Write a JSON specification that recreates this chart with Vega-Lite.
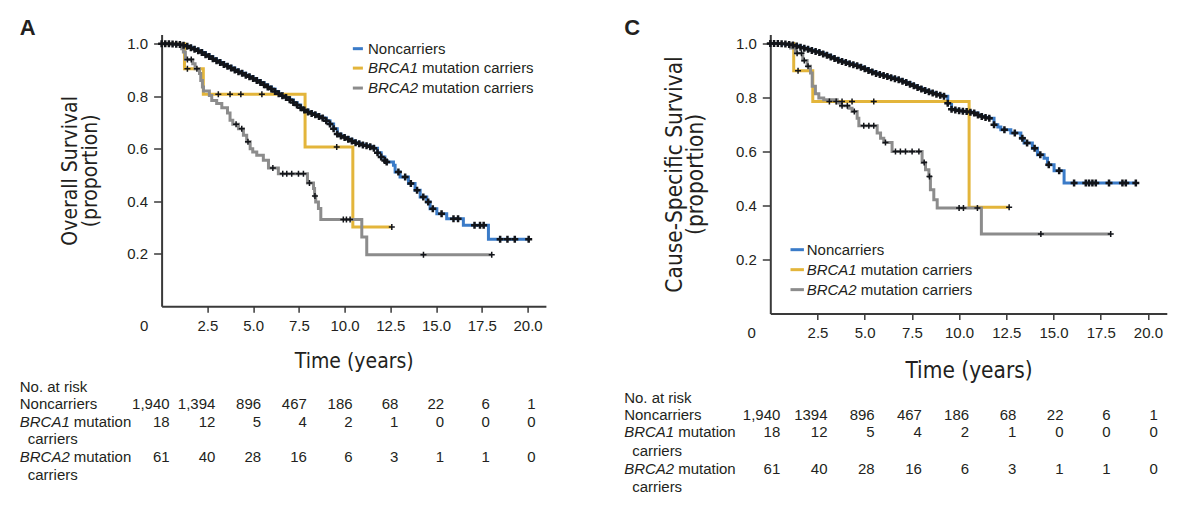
{
"$schema": "https://vega.github.io/schema/vega-lite/v6.json",
"background": "white",
"padding": {"left": 19.6, "top": 16.5, "right": 5, "bottom": 5},
"bounds": "flush",
"spacing": 223.7,
"config": {
  "view": {"stroke": null},
  "font": "Liberation Sans",
  "text": {"font": "Liberation Sans", "fontSize": 15, "color": "#231f20"},
  "axis": {"grid": false, "domainColor": "#3a3a3a", "domainWidth": 2, "tickColor": "#3a3a3a", "tickWidth": 1.5,
    "labelFont": "Liberation Sans", "labelFontSize": 15, "labelColor": "#231f20", "labelFlush": false, "labelOverlap": false,
    "titleFont": "Liberation Sans Narrow, DejaVu Sans Condensed, sans-serif", "titleFontWeight": "normal", "titleColor": "#231f20"},
  "axisX": {"tickSize": 6, "labelPadding": 6},
  "axisY": {"tickSize": 8, "labelPadding": 6}
},
"datasets": {
"km": [
{"p":"A","g":"Noncarriers","t":0,"s":1,"c":1},{"p":"A","g":"Noncarriers","t":0.2,"s":1,"c":1},{"p":"A","g":"Noncarriers","t":0.4,"s":1,"c":1},{"p":"A","g":"Noncarriers","t":0.6,"s":0.999,"c":1},{"p":"A","g":"Noncarriers","t":0.8,"s":0.998,"c":1},{"p":"A","g":"Noncarriers","t":1,"s":0.997,"c":1},{"p":"A","g":"Noncarriers","t":1.2,"s":0.994,"c":1},{"p":"A","g":"Noncarriers","t":1.4,"s":0.99,"c":1},{"p":"A","g":"Noncarriers","t":1.6,"s":0.985,"c":1},{"p":"A","g":"Noncarriers","t":1.8,"s":0.979,"c":1},{"p":"A","g":"Noncarriers","t":2,"s":0.973,"c":1},{"p":"A","g":"Noncarriers","t":2.2,"s":0.966,"c":1},{"p":"A","g":"Noncarriers","t":2.4,"s":0.958,"c":1},{"p":"A","g":"Noncarriers","t":2.6,"s":0.951,"c":1},{"p":"A","g":"Noncarriers","t":2.8,"s":0.943,"c":1},{"p":"A","g":"Noncarriers","t":3,"s":0.935,"c":1},{"p":"A","g":"Noncarriers","t":3.2,"s":0.928,"c":1},{"p":"A","g":"Noncarriers","t":3.4,"s":0.921,"c":1},{"p":"A","g":"Noncarriers","t":3.6,"s":0.914,"c":1},{"p":"A","g":"Noncarriers","t":3.8,"s":0.907,"c":1},{"p":"A","g":"Noncarriers","t":4,"s":0.9,"c":1},{"p":"A","g":"Noncarriers","t":4.2,"s":0.893,"c":1},{"p":"A","g":"Noncarriers","t":4.4,"s":0.887,"c":1},{"p":"A","g":"Noncarriers","t":4.6,"s":0.88,"c":1},{"p":"A","g":"Noncarriers","t":4.8,"s":0.874,"c":1},{"p":"A","g":"Noncarriers","t":5,"s":0.867,"c":1},{"p":"A","g":"Noncarriers","t":5.2,"s":0.86,"c":1},{"p":"A","g":"Noncarriers","t":5.4,"s":0.852,"c":1},{"p":"A","g":"Noncarriers","t":5.6,"s":0.844,"c":1},{"p":"A","g":"Noncarriers","t":5.8,"s":0.835,"c":1},{"p":"A","g":"Noncarriers","t":6,"s":0.827,"c":1},{"p":"A","g":"Noncarriers","t":6.2,"s":0.818,"c":1},{"p":"A","g":"Noncarriers","t":6.4,"s":0.809,"c":1},{"p":"A","g":"Noncarriers","t":6.6,"s":0.802,"c":1},{"p":"A","g":"Noncarriers","t":6.8,"s":0.795,"c":1},{"p":"A","g":"Noncarriers","t":7,"s":0.786,"c":1},{"p":"A","g":"Noncarriers","t":7.2,"s":0.776,"c":1},{"p":"A","g":"Noncarriers","t":7.4,"s":0.766,"c":1},{"p":"A","g":"Noncarriers","t":7.6,"s":0.756,"c":1},{"p":"A","g":"Noncarriers","t":7.8,"s":0.747,"c":1},{"p":"A","g":"Noncarriers","t":8,"s":0.74,"c":1},{"p":"A","g":"Noncarriers","t":8.2,"s":0.734,"c":1},{"p":"A","g":"Noncarriers","t":8.4,"s":0.729,"c":1},{"p":"A","g":"Noncarriers","t":8.6,"s":0.723,"c":1},{"p":"A","g":"Noncarriers","t":8.8,"s":0.717,"c":1},{"p":"A","g":"Noncarriers","t":9,"s":0.706,"c":1},{"p":"A","g":"Noncarriers","t":9.2,"s":0.694,"c":1},{"p":"A","g":"Noncarriers","t":9.4,"s":0.676,"c":1},{"p":"A","g":"Noncarriers","t":9.6,"s":0.656,"c":1},{"p":"A","g":"Noncarriers","t":9.8,"s":0.648,"c":1},{"p":"A","g":"Noncarriers","t":10,"s":0.643,"c":1},{"p":"A","g":"Noncarriers","t":10.2,"s":0.636,"c":1},{"p":"A","g":"Noncarriers","t":10.4,"s":0.629,"c":1},{"p":"A","g":"Noncarriers","t":10.6,"s":0.623,"c":1},{"p":"A","g":"Noncarriers","t":10.8,"s":0.619,"c":1},{"p":"A","g":"Noncarriers","t":11,"s":0.614,"c":1},{"p":"A","g":"Noncarriers","t":11.2,"s":0.611,"c":1},{"p":"A","g":"Noncarriers","t":11.4,"s":0.607,"c":1},{"p":"A","g":"Noncarriers","t":11.6,"s":0.602,"c":1},{"p":"A","g":"Noncarriers","t":11.8,"s":0.585,"c":1},{"p":"A","g":"Noncarriers","t":12,"s":0.568,"c":1},{"p":"A","g":"Noncarriers","t":12.2,"s":0.555,"c":1},
{"p":"A","g":"Noncarriers","t":12.3,"s":0.549,"c":1},{"p":"A","g":"Noncarriers","t":12.67,"s":0.537},{"p":"A","g":"Noncarriers","t":12.76,"s":0.511},{"p":"A","g":"Noncarriers","t":12.94,"s":0.511,"c":1},{"p":"A","g":"Noncarriers","t":13.03,"s":0.492},{"p":"A","g":"Noncarriers","t":13.31,"s":0.492,"c":1},{"p":"A","g":"Noncarriers","t":13.49,"s":0.467},{"p":"A","g":"Noncarriers","t":13.62,"s":0.467,"c":1},{"p":"A","g":"Noncarriers","t":13.85,"s":0.442},{"p":"A","g":"Noncarriers","t":13.96,"s":0.442,"c":1},{"p":"A","g":"Noncarriers","t":14.13,"s":0.416},{"p":"A","g":"Noncarriers","t":14.3,"s":0.416,"c":1},{"p":"A","g":"Noncarriers","t":14.49,"s":0.397},{"p":"A","g":"Noncarriers","t":14.57,"s":0.397,"c":1},{"p":"A","g":"Noncarriers","t":14.67,"s":0.371},{"p":"A","g":"Noncarriers","t":14.82,"s":0.371,"c":1},{"p":"A","g":"Noncarriers","t":15.04,"s":0.352},{"p":"A","g":"Noncarriers","t":15.3,"s":0.352,"c":1},{"p":"A","g":"Noncarriers","t":15.58,"s":0.333},{"p":"A","g":"Noncarriers","t":15.95,"s":0.333,"c":1},{"p":"A","g":"Noncarriers","t":16.2,"s":0.333,"c":1},{"p":"A","g":"Noncarriers","t":16.49,"s":0.308},{"p":"A","g":"Noncarriers","t":17.1,"s":0.308,"c":1},{"p":"A","g":"Noncarriers","t":17.4,"s":0.308,"c":1},{"p":"A","g":"Noncarriers","t":17.6,"s":0.308,"c":1},{"p":"A","g":"Noncarriers","t":17.86,"s":0.255},{"p":"A","g":"Noncarriers","t":18.5,"s":0.255,"c":1},{"p":"A","g":"Noncarriers","t":18.9,"s":0.255,"c":1},{"p":"A","g":"Noncarriers","t":19.3,"s":0.255,"c":1},{"p":"A","g":"Noncarriers","t":20.06,"s":0.255,"c":1},
{"p":"A","g":"BRCA1","t":0,"s":1},{"p":"A","g":"BRCA1","t":1.25,"s":0.905},{"p":"A","g":"BRCA1","t":1.41,"s":0.905,"c":1},{"p":"A","g":"BRCA1","t":2.28,"s":0.807},{"p":"A","g":"BRCA1","t":3.1,"s":0.807,"c":1},{"p":"A","g":"BRCA1","t":3.74,"s":0.807,"c":1},{"p":"A","g":"BRCA1","t":4.33,"s":0.807,"c":1},{"p":"A","g":"BRCA1","t":5.48,"s":0.807,"c":1},{"p":"A","g":"BRCA1","t":7.84,"s":0.606},{"p":"A","g":"BRCA1","t":9.57,"s":0.606,"c":1},{"p":"A","g":"BRCA1","t":10.45,"s":0.302},{"p":"A","g":"BRCA1","t":12.58,"s":0.302,"c":1},
{"p":"A","g":"BRCA2","t":0,"s":1},{"p":"A","g":"BRCA2","t":1.1,"s":0.981},{"p":"A","g":"BRCA2","t":1.19,"s":0.968},{"p":"A","g":"BRCA2","t":1.3,"s":0.94},{"p":"A","g":"BRCA2","t":1.41,"s":0.94,"c":1},{"p":"A","g":"BRCA2","t":1.62,"s":0.94,"c":1},{"p":"A","g":"BRCA2","t":1.7,"s":0.924},{"p":"A","g":"BRCA2","t":1.83,"s":0.905},{"p":"A","g":"BRCA2","t":1.93,"s":0.905,"c":1},{"p":"A","g":"BRCA2","t":2.07,"s":0.886},{"p":"A","g":"BRCA2","t":2.14,"s":0.86},{"p":"A","g":"BRCA2","t":2.23,"s":0.835},{"p":"A","g":"BRCA2","t":2.29,"s":0.82},{"p":"A","g":"BRCA2","t":2.61,"s":0.803},{"p":"A","g":"BRCA2","t":2.74,"s":0.784},{"p":"A","g":"BRCA2","t":3.01,"s":0.772},{"p":"A","g":"BRCA2","t":3.29,"s":0.756},{"p":"A","g":"BRCA2","t":3.6,"s":0.736},{"p":"A","g":"BRCA2","t":3.74,"s":0.708},{"p":"A","g":"BRCA2","t":3.89,"s":0.693},{"p":"A","g":"BRCA2","t":4.07,"s":0.693,"c":1},{"p":"A","g":"BRCA2","t":4.2,"s":0.676},{"p":"A","g":"BRCA2","t":4.38,"s":0.676,"c":1},{"p":"A","g":"BRCA2","t":4.47,"s":0.651},{"p":"A","g":"BRCA2","t":4.65,"s":0.626},{"p":"A","g":"BRCA2","t":4.72,"s":0.626,"c":1},{"p":"A","g":"BRCA2","t":4.84,"s":0.6},{"p":"A","g":"BRCA2","t":4.98,"s":0.587},{"p":"A","g":"BRCA2","t":5.2,"s":0.575},{"p":"A","g":"BRCA2","t":5.56,"s":0.556},{"p":"A","g":"BRCA2","t":5.84,"s":0.526},{"p":"A","g":"BRCA2","t":6.08,"s":0.526,"c":1},{"p":"A","g":"BRCA2","t":6.38,"s":0.505},{"p":"A","g":"BRCA2","t":6.62,"s":0.505,"c":1},{"p":"A","g":"BRCA2","t":6.84,"s":0.505,"c":1},{"p":"A","g":"BRCA2","t":7.11,"s":0.505,"c":1},{"p":"A","g":"BRCA2","t":7.48,"s":0.505,"c":1},{"p":"A","g":"BRCA2","t":7.75,"s":0.505,"c":1},{"p":"A","g":"BRCA2","t":7.97,"s":0.469},{"p":"A","g":"BRCA2","t":8.08,"s":0.469,"c":1},{"p":"A","g":"BRCA2","t":8.3,"s":0.448},{"p":"A","g":"BRCA2","t":8.36,"s":0.42},{"p":"A","g":"BRCA2","t":8.38,"s":0.42,"c":1},{"p":"A","g":"BRCA2","t":8.42,"s":0.397},{"p":"A","g":"BRCA2","t":8.57,"s":0.372},{"p":"A","g":"BRCA2","t":8.7,"s":0.33},{"p":"A","g":"BRCA2","t":9.93,"s":0.33,"c":1},{"p":"A","g":"BRCA2","t":10.1,"s":0.33,"c":1},{"p":"A","g":"BRCA2","t":10.3,"s":0.33,"c":1},{"p":"A","g":"BRCA2","t":10.94,"s":0.264},{"p":"A","g":"BRCA2","t":11.21,"s":0.196},{"p":"A","g":"BRCA2","t":14.31,"s":0.196,"c":1},{"p":"A","g":"BRCA2","t":18.04,"s":0.196,"c":1},
{"p":"C","g":"Noncarriers","t":0,"s":1,"c":1},{"p":"C","g":"Noncarriers","t":0.2,"s":1,"c":1},{"p":"C","g":"Noncarriers","t":0.4,"s":1,"c":1},{"p":"C","g":"Noncarriers","t":0.6,"s":0.999,"c":1},{"p":"C","g":"Noncarriers","t":0.8,"s":0.998,"c":1},{"p":"C","g":"Noncarriers","t":1,"s":0.996,"c":1},{"p":"C","g":"Noncarriers","t":1.2,"s":0.994,"c":1},{"p":"C","g":"Noncarriers","t":1.4,"s":0.99,"c":1},{"p":"C","g":"Noncarriers","t":1.6,"s":0.986,"c":1},{"p":"C","g":"Noncarriers","t":1.8,"s":0.982,"c":1},{"p":"C","g":"Noncarriers","t":2,"s":0.978,"c":1},{"p":"C","g":"Noncarriers","t":2.2,"s":0.974,"c":1},{"p":"C","g":"Noncarriers","t":2.4,"s":0.97,"c":1},{"p":"C","g":"Noncarriers","t":2.6,"s":0.966,"c":1},{"p":"C","g":"Noncarriers","t":2.8,"s":0.961,"c":1},{"p":"C","g":"Noncarriers","t":3,"s":0.956,"c":1},{"p":"C","g":"Noncarriers","t":3.2,"s":0.95,"c":1},{"p":"C","g":"Noncarriers","t":3.4,"s":0.944,"c":1},{"p":"C","g":"Noncarriers","t":3.6,"s":0.938,"c":1},{"p":"C","g":"Noncarriers","t":3.8,"s":0.933,"c":1},{"p":"C","g":"Noncarriers","t":4,"s":0.929,"c":1},{"p":"C","g":"Noncarriers","t":4.2,"s":0.925,"c":1},{"p":"C","g":"Noncarriers","t":4.4,"s":0.921,"c":1},{"p":"C","g":"Noncarriers","t":4.6,"s":0.917,"c":1},{"p":"C","g":"Noncarriers","t":4.8,"s":0.912,"c":1},{"p":"C","g":"Noncarriers","t":5,"s":0.906,"c":1},{"p":"C","g":"Noncarriers","t":5.2,"s":0.9,"c":1},{"p":"C","g":"Noncarriers","t":5.4,"s":0.894,"c":1},{"p":"C","g":"Noncarriers","t":5.6,"s":0.889,"c":1},{"p":"C","g":"Noncarriers","t":5.8,"s":0.885,"c":1},{"p":"C","g":"Noncarriers","t":6,"s":0.881,"c":1},{"p":"C","g":"Noncarriers","t":6.2,"s":0.877,"c":1},{"p":"C","g":"Noncarriers","t":6.4,"s":0.873,"c":1},{"p":"C","g":"Noncarriers","t":6.6,"s":0.869,"c":1},{"p":"C","g":"Noncarriers","t":6.8,"s":0.865,"c":1},{"p":"C","g":"Noncarriers","t":7,"s":0.86,"c":1},{"p":"C","g":"Noncarriers","t":7.2,"s":0.855,"c":1},{"p":"C","g":"Noncarriers","t":7.4,"s":0.849,"c":1},{"p":"C","g":"Noncarriers","t":7.6,"s":0.843,"c":1},{"p":"C","g":"Noncarriers","t":7.8,"s":0.837,"c":1},{"p":"C","g":"Noncarriers","t":8,"s":0.831,"c":1},{"p":"C","g":"Noncarriers","t":8.2,"s":0.826,"c":1},{"p":"C","g":"Noncarriers","t":8.4,"s":0.821,"c":1},{"p":"C","g":"Noncarriers","t":8.6,"s":0.816,"c":1},{"p":"C","g":"Noncarriers","t":8.8,"s":0.812,"c":1},{"p":"C","g":"Noncarriers","t":9,"s":0.808,"c":1},{"p":"C","g":"Noncarriers","t":9.2,"s":0.804,"c":1},{"p":"C","g":"Noncarriers","t":9.4,"s":0.778,"c":1},{"p":"C","g":"Noncarriers","t":9.6,"s":0.756,"c":1},{"p":"C","g":"Noncarriers","t":9.8,"s":0.753,"c":1},{"p":"C","g":"Noncarriers","t":10,"s":0.751,"c":1},{"p":"C","g":"Noncarriers","t":10.2,"s":0.749,"c":1},{"p":"C","g":"Noncarriers","t":10.4,"s":0.748,"c":1},{"p":"C","g":"Noncarriers","t":10.6,"s":0.745,"c":1},{"p":"C","g":"Noncarriers","t":10.8,"s":0.742,"c":1},{"p":"C","g":"Noncarriers","t":11,"s":0.735,"c":1},{"p":"C","g":"Noncarriers","t":11.2,"s":0.729,"c":1},{"p":"C","g":"Noncarriers","t":11.4,"s":0.726,"c":1},{"p":"C","g":"Noncarriers","t":11.6,"s":0.723,"c":1},
{"p":"C","g":"Noncarriers","t":11.85,"s":0.699,"c":1},{"p":"C","g":"Noncarriers","t":12.05,"s":0.69},{"p":"C","g":"Noncarriers","t":12.21,"s":0.68},{"p":"C","g":"Noncarriers","t":12.4,"s":0.68,"c":1},{"p":"C","g":"Noncarriers","t":12.74,"s":0.668},{"p":"C","g":"Noncarriers","t":12.95,"s":0.668,"c":1},{"p":"C","g":"Noncarriers","t":13.27,"s":0.649},{"p":"C","g":"Noncarriers","t":13.35,"s":0.649,"c":1},{"p":"C","g":"Noncarriers","t":13.44,"s":0.631},{"p":"C","g":"Noncarriers","t":13.6,"s":0.631,"c":1},{"p":"C","g":"Noncarriers","t":13.88,"s":0.612},{"p":"C","g":"Noncarriers","t":14,"s":0.612,"c":1},{"p":"C","g":"Noncarriers","t":14.15,"s":0.588},{"p":"C","g":"Noncarriers","t":14.3,"s":0.588,"c":1},{"p":"C","g":"Noncarriers","t":14.5,"s":0.575},{"p":"C","g":"Noncarriers","t":14.68,"s":0.551},{"p":"C","g":"Noncarriers","t":14.75,"s":0.551,"c":1},{"p":"C","g":"Noncarriers","t":15.03,"s":0.528},{"p":"C","g":"Noncarriers","t":15.3,"s":0.528,"c":1},{"p":"C","g":"Noncarriers","t":15.56,"s":0.483},{"p":"C","g":"Noncarriers","t":16.09,"s":0.483,"c":1},{"p":"C","g":"Noncarriers","t":16.71,"s":0.483,"c":1},{"p":"C","g":"Noncarriers","t":16.88,"s":0.483,"c":1},{"p":"C","g":"Noncarriers","t":17.06,"s":0.483,"c":1},{"p":"C","g":"Noncarriers","t":17.24,"s":0.483,"c":1},{"p":"C","g":"Noncarriers","t":17.94,"s":0.483,"c":1},{"p":"C","g":"Noncarriers","t":18.65,"s":0.483,"c":1},{"p":"C","g":"Noncarriers","t":18.83,"s":0.483,"c":1},{"p":"C","g":"Noncarriers","t":19.36,"s":0.483,"c":1},
{"p":"C","g":"BRCA1","t":0,"s":1},{"p":"C","g":"BRCA1","t":1.24,"s":0.899},{"p":"C","g":"BRCA1","t":1.47,"s":0.899,"c":1},{"p":"C","g":"BRCA1","t":2.25,"s":0.785},{"p":"C","g":"BRCA1","t":3.13,"s":0.785,"c":1},{"p":"C","g":"BRCA1","t":3.49,"s":0.785,"c":1},{"p":"C","g":"BRCA1","t":3.8,"s":0.785,"c":1},{"p":"C","g":"BRCA1","t":4.33,"s":0.785,"c":1},{"p":"C","g":"BRCA1","t":5.48,"s":0.785,"c":1},{"p":"C","g":"BRCA1","t":10.53,"s":0.393},{"p":"C","g":"BRCA1","t":12.65,"s":0.393,"c":1},
{"p":"C","g":"BRCA2","t":0,"s":1},{"p":"C","g":"BRCA2","t":1.07,"s":0.983},{"p":"C","g":"BRCA2","t":1.33,"s":0.964},{"p":"C","g":"BRCA2","t":1.42,"s":0.964,"c":1},{"p":"C","g":"BRCA2","t":1.65,"s":0.964,"c":1},{"p":"C","g":"BRCA2","t":1.72,"s":0.937},{"p":"C","g":"BRCA2","t":1.8,"s":0.937,"c":1},{"p":"C","g":"BRCA2","t":1.95,"s":0.915},{"p":"C","g":"BRCA2","t":2,"s":0.915,"c":1},{"p":"C","g":"BRCA2","t":2.13,"s":0.89},{"p":"C","g":"BRCA2","t":2.22,"s":0.841},{"p":"C","g":"BRCA2","t":2.39,"s":0.814},{"p":"C","g":"BRCA2","t":2.57,"s":0.798},{"p":"C","g":"BRCA2","t":2.83,"s":0.791},{"p":"C","g":"BRCA2","t":3.54,"s":0.779},{"p":"C","g":"BRCA2","t":3.72,"s":0.769},{"p":"C","g":"BRCA2","t":3.8,"s":0.769,"c":1},{"p":"C","g":"BRCA2","t":4.08,"s":0.769,"c":1},{"p":"C","g":"BRCA2","t":4.16,"s":0.76},{"p":"C","g":"BRCA2","t":4.33,"s":0.748},{"p":"C","g":"BRCA2","t":4.45,"s":0.748,"c":1},{"p":"C","g":"BRCA2","t":4.6,"s":0.723},{"p":"C","g":"BRCA2","t":4.69,"s":0.695},{"p":"C","g":"BRCA2","t":4.95,"s":0.695,"c":1},{"p":"C","g":"BRCA2","t":5.22,"s":0.695,"c":1},{"p":"C","g":"BRCA2","t":5.48,"s":0.695,"c":1},{"p":"C","g":"BRCA2","t":5.66,"s":0.668},{"p":"C","g":"BRCA2","t":5.84,"s":0.649},{"p":"C","g":"BRCA2","t":6.01,"s":0.633},{"p":"C","g":"BRCA2","t":6.1,"s":0.633,"c":1},{"p":"C","g":"BRCA2","t":6.45,"s":0.6},{"p":"C","g":"BRCA2","t":6.63,"s":0.6,"c":1},{"p":"C","g":"BRCA2","t":6.89,"s":0.6,"c":1},{"p":"C","g":"BRCA2","t":7.16,"s":0.6,"c":1},{"p":"C","g":"BRCA2","t":7.51,"s":0.6,"c":1},{"p":"C","g":"BRCA2","t":7.87,"s":0.6,"c":1},{"p":"C","g":"BRCA2","t":8.04,"s":0.559},{"p":"C","g":"BRCA2","t":8.15,"s":0.559,"c":1},{"p":"C","g":"BRCA2","t":8.22,"s":0.532},{"p":"C","g":"BRCA2","t":8.4,"s":0.507},{"p":"C","g":"BRCA2","t":8.43,"s":0.507,"c":1},{"p":"C","g":"BRCA2","t":8.48,"s":0.458},{"p":"C","g":"BRCA2","t":8.66,"s":0.421},{"p":"C","g":"BRCA2","t":8.84,"s":0.39},{"p":"C","g":"BRCA2","t":10,"s":0.39,"c":1},{"p":"C","g":"BRCA2","t":10.23,"s":0.39,"c":1},{"p":"C","g":"BRCA2","t":10.97,"s":0.39,"c":1},{"p":"C","g":"BRCA2","t":11.18,"s":0.294},{"p":"C","g":"BRCA2","t":14.33,"s":0.294,"c":1},{"p":"C","g":"BRCA2","t":18.03,"s":0.294,"c":1}
],
"risk": [
{"p":"A","g":"Noncarriers","t":0,"n":"1,940"},{"p":"A","g":"Noncarriers","t":2.5,"n":"1,394"},{"p":"A","g":"Noncarriers","t":5,"n":"896"},{"p":"A","g":"Noncarriers","t":7.5,"n":"467"},{"p":"A","g":"Noncarriers","t":10,"n":"186"},{"p":"A","g":"Noncarriers","t":12.5,"n":"68"},{"p":"A","g":"Noncarriers","t":15,"n":"22"},{"p":"A","g":"Noncarriers","t":17.5,"n":"6"},{"p":"A","g":"Noncarriers","t":20,"n":"1"},
{"p":"A","g":"BRCA1","t":0,"n":"18"},{"p":"A","g":"BRCA1","t":2.5,"n":"12"},{"p":"A","g":"BRCA1","t":5,"n":"5"},{"p":"A","g":"BRCA1","t":7.5,"n":"4"},{"p":"A","g":"BRCA1","t":10,"n":"2"},{"p":"A","g":"BRCA1","t":12.5,"n":"1"},{"p":"A","g":"BRCA1","t":15,"n":"0"},{"p":"A","g":"BRCA1","t":17.5,"n":"0"},{"p":"A","g":"BRCA1","t":20,"n":"0"},
{"p":"A","g":"BRCA2","t":0,"n":"61"},{"p":"A","g":"BRCA2","t":2.5,"n":"40"},{"p":"A","g":"BRCA2","t":5,"n":"28"},{"p":"A","g":"BRCA2","t":7.5,"n":"16"},{"p":"A","g":"BRCA2","t":10,"n":"6"},{"p":"A","g":"BRCA2","t":12.5,"n":"3"},{"p":"A","g":"BRCA2","t":15,"n":"1"},{"p":"A","g":"BRCA2","t":17.5,"n":"1"},{"p":"A","g":"BRCA2","t":20,"n":"0"},
{"p":"C","g":"Noncarriers","t":0,"n":"1,940"},{"p":"C","g":"Noncarriers","t":2.5,"n":"1394"},{"p":"C","g":"Noncarriers","t":5,"n":"896"},{"p":"C","g":"Noncarriers","t":7.5,"n":"467"},{"p":"C","g":"Noncarriers","t":10,"n":"186"},{"p":"C","g":"Noncarriers","t":12.5,"n":"68"},{"p":"C","g":"Noncarriers","t":15,"n":"22"},{"p":"C","g":"Noncarriers","t":17.5,"n":"6"},{"p":"C","g":"Noncarriers","t":20,"n":"1"},
{"p":"C","g":"BRCA1","t":0,"n":"18"},{"p":"C","g":"BRCA1","t":2.5,"n":"12"},{"p":"C","g":"BRCA1","t":5,"n":"5"},{"p":"C","g":"BRCA1","t":7.5,"n":"4"},{"p":"C","g":"BRCA1","t":10,"n":"2"},{"p":"C","g":"BRCA1","t":12.5,"n":"1"},{"p":"C","g":"BRCA1","t":15,"n":"0"},{"p":"C","g":"BRCA1","t":17.5,"n":"0"},{"p":"C","g":"BRCA1","t":20,"n":"0"},
{"p":"C","g":"BRCA2","t":0,"n":"61"},{"p":"C","g":"BRCA2","t":2.5,"n":"40"},{"p":"C","g":"BRCA2","t":5,"n":"28"},{"p":"C","g":"BRCA2","t":7.5,"n":"16"},{"p":"C","g":"BRCA2","t":10,"n":"6"},{"p":"C","g":"BRCA2","t":12.5,"n":"3"},{"p":"C","g":"BRCA2","t":15,"n":"1"},{"p":"C","g":"BRCA2","t":17.5,"n":"1"},{"p":"C","g":"BRCA2","t":20,"n":"0"}
]
},
"hconcat": [
{
 "width": 384.3, "height": 271.7,
 "layer": [
  {"data": {"name": "km"}, "transform": [{"filter": "datum.p === 'A'"}],
   "mark": {"type": "line", "interpolate": "step-after", "strokeWidth": 3, "strokeCap": "butt"},
   "encoding": {
    "x": {"field": "t", "type": "quantitative", "scale": {"domain": [0, 21], "nice": false, "zero": false},
      "axis": {"values": [0, 2.5, 5, 7.5, 10, 12.5, 15, 17.5, 20], "labelExpr": "datum.value === 0 ? '0' : format(datum.value, '.1f')",
        "labelOffset": {"condition": {"test": "datum.value === 0", "value": -18}, "value": 0},
        "tickOpacity": {"condition": {"test": "datum.value === 0", "value": 0}, "value": 1},
        "title": "Time (years)", "titleFontSize": 21, "titlePadding": 17}},
    "y": {"field": "s", "type": "quantitative", "scale": {"domain": [0, 1.035], "nice": false, "zero": false},
      "axis": {"values": [0.2, 0.4, 0.6, 0.8, 1.0], "format": ".1f", "title": ["Overall Survival", "(proportion)"], "titleFontSize": 21, "titleLineHeight": 20, "titlePadding": 26}},
    "color": {"field": "g", "type": "nominal", "scale": {"domain": ["Noncarriers", "BRCA1", "BRCA2"], "range": ["#3a7bc8", "#e3b53b", "#8c8c8c"]}, "legend": null}
   }},
  {"data": {"name": "km"}, "transform": [{"filter": "datum.p === 'A' && datum.c === 1 && datum.g === 'Noncarriers'"}],
   "mark": {"type": "point", "shape": "M-1,0L1,0M0,-1L0,1", "filled": false, "stroke": "#121419", "strokeWidth": 2.5, "size": 49, "opacity": 1},
   "encoding": {"x": {"field": "t", "type": "quantitative"}, "y": {"field": "s", "type": "quantitative"}}},
  {"data": {"name": "km"}, "transform": [{"filter": "datum.p === 'A' && datum.c === 1 && datum.g !== 'Noncarriers'"}],
   "mark": {"type": "point", "shape": "M-1,0L1,0M0,-1L0,1", "filled": false, "stroke": "#121419", "strokeWidth": 1.5, "size": 36, "opacity": 1},
   "encoding": {"x": {"field": "t", "type": "quantitative"}, "y": {"field": "s", "type": "quantitative"}}},
  {"data": {"values": [{}]}, "mark": {"type": "text", "align": "left", "baseline": "alphabetic", "fontSize": 22, "fontWeight": "bold"}, "encoding": {"x": {"datum": -7.75}, "y": {"datum": 1.032}, "text": {"value": "A"}}},
  {"data": {"values": [{}]}, "mark": {"type": "rule", "strokeWidth": 3, "color": "#3a7bc8"}, "encoding": {"x": {"datum": 10.45}, "x2": {"datum": 11.0}, "y": {"datum": 0.981}}},
  {"data": {"values": [{}]}, "mark": {"type": "rule", "strokeWidth": 3, "color": "#e3b53b"}, "encoding": {"x": {"datum": 10.45}, "x2": {"datum": 11.0}, "y": {"datum": 0.907}}},
  {"data": {"values": [{}]}, "mark": {"type": "rule", "strokeWidth": 3, "color": "#8c8c8c"}, "encoding": {"x": {"datum": 10.45}, "x2": {"datum": 11.0}, "y": {"datum": 0.831}}},
  {"data": {"values": [{}]}, "mark": {"type": "text", "align": "left", "baseline": "middle"}, "encoding": {"x": {"datum": 11.28}, "y": {"datum": 0.981}, "text": {"value": "Noncarriers"}}},
  {"data": {"values": [{}]}, "mark": {"type": "text", "align": "left", "baseline": "middle", "fontStyle": "italic"}, "encoding": {"x": {"datum": 11.28}, "y": {"datum": 0.907}, "text": {"value": "BRCA1"}}},
  {"data": {"values": [{}]}, "mark": {"type": "text", "align": "left", "baseline": "middle", "dx": 54}, "encoding": {"x": {"datum": 11.28}, "y": {"datum": 0.907}, "text": {"value": "mutation carriers"}}},
  {"data": {"values": [{}]}, "mark": {"type": "text", "align": "left", "baseline": "middle", "fontStyle": "italic"}, "encoding": {"x": {"datum": 11.28}, "y": {"datum": 0.831}, "text": {"value": "BRCA2"}}},
  {"data": {"values": [{}]}, "mark": {"type": "text", "align": "left", "baseline": "middle", "dx": 54}, "encoding": {"x": {"datum": 11.28}, "y": {"datum": 0.831}, "text": {"value": "mutation carriers"}}},
  {"data": {"values": [{}]}, "mark": {"type": "text", "align": "left", "baseline": "middle"}, "encoding": {"x": {"datum": -7.75}, "y": {"datum": -0.308}, "text": {"value": "No. at risk"}}},
  {"data": {"values": [{}]}, "mark": {"type": "text", "align": "left", "baseline": "middle"}, "encoding": {"x": {"datum": -7.75}, "y": {"datum": -0.371}, "text": {"value": "Noncarriers"}}},
  {"data": {"values": [{}]}, "mark": {"type": "text", "align": "left", "baseline": "middle", "fontStyle": "italic"}, "encoding": {"x": {"datum": -7.75}, "y": {"datum": -0.441}, "text": {"value": "BRCA1"}}},
  {"data": {"values": [{}]}, "mark": {"type": "text", "align": "left", "baseline": "middle", "dx": 54}, "encoding": {"x": {"datum": -7.75}, "y": {"datum": -0.441}, "text": {"value": "mutation"}}},
  {"data": {"values": [{}]}, "mark": {"type": "text", "align": "left", "baseline": "middle", "dx": 8}, "encoding": {"x": {"datum": -7.75}, "y": {"datum": -0.505}, "text": {"value": "carriers"}}},
  {"data": {"values": [{}]}, "mark": {"type": "text", "align": "left", "baseline": "middle", "fontStyle": "italic"}, "encoding": {"x": {"datum": -7.75}, "y": {"datum": -0.574}, "text": {"value": "BRCA2"}}},
  {"data": {"values": [{}]}, "mark": {"type": "text", "align": "left", "baseline": "middle", "dx": 54}, "encoding": {"x": {"datum": -7.75}, "y": {"datum": -0.574}, "text": {"value": "mutation"}}},
  {"data": {"values": [{}]}, "mark": {"type": "text", "align": "left", "baseline": "middle", "dx": 8}, "encoding": {"x": {"datum": -7.75}, "y": {"datum": -0.642}, "text": {"value": "carriers"}}},
  {"data": {"name": "risk"}, "transform": [{"filter": "datum.p === 'A' && datum.g === 'Noncarriers'"}], "mark": {"type": "text", "align": "right", "baseline": "middle", "dx": 8}, "encoding": {"x": {"field": "t", "type": "quantitative"}, "y": {"datum": -0.371}, "text": {"field": "n"}}},
  {"data": {"name": "risk"}, "transform": [{"filter": "datum.p === 'A' && datum.g === 'BRCA1'"}], "mark": {"type": "text", "align": "right", "baseline": "middle", "dx": 8}, "encoding": {"x": {"field": "t", "type": "quantitative"}, "y": {"datum": -0.441}, "text": {"field": "n"}}},
  {"data": {"name": "risk"}, "transform": [{"filter": "datum.p === 'A' && datum.g === 'BRCA2'"}], "mark": {"type": "text", "align": "right", "baseline": "middle", "dx": 8}, "encoding": {"x": {"field": "t", "type": "quantitative"}, "y": {"datum": -0.574}, "text": {"field": "n"}}}
 ]
},
{
 "width": 396.5, "height": 278.9,
 "layer": [
  {"data": {"name": "km"}, "transform": [{"filter": "datum.p === 'C'"}],
   "mark": {"type": "line", "interpolate": "step-after", "strokeWidth": 3, "strokeCap": "butt"},
   "encoding": {
    "x": {"field": "t", "type": "quantitative", "scale": {"domain": [0, 21], "nice": false, "zero": false},
      "axis": {"values": [0, 2.5, 5, 7.5, 10, 12.5, 15, 17.5, 20], "labelExpr": "datum.value === 0 ? '0' : format(datum.value, '.1f')",
        "labelOffset": {"condition": {"test": "datum.value === 0", "value": -19}, "value": 0},
        "tickOpacity": {"condition": {"test": "datum.value === 0", "value": 0}, "value": 1},
        "title": "Time (years)", "titleFontSize": 22.5, "titlePadding": 19}},
    "y": {"field": "s", "type": "quantitative", "scale": {"domain": [0, 1.033], "nice": false, "zero": false},
      "axis": {"values": [0.2, 0.4, 0.6, 0.8, 1.0], "format": ".1f", "title": ["Cause-Specific Survival", "(proportion)"], "titleFontSize": 22.5, "titleLineHeight": 21, "titlePadding": 28}},
    "color": {"field": "g", "type": "nominal", "scale": {"domain": ["Noncarriers", "BRCA1", "BRCA2"], "range": ["#3a7bc8", "#e3b53b", "#8c8c8c"]}, "legend": null}
   }},
  {"data": {"name": "km"}, "transform": [{"filter": "datum.p === 'C' && datum.c === 1 && datum.g === 'Noncarriers'"}],
   "mark": {"type": "point", "shape": "M-1,0L1,0M0,-1L0,1", "filled": false, "stroke": "#121419", "strokeWidth": 2.5, "size": 49, "opacity": 1},
   "encoding": {"x": {"field": "t", "type": "quantitative"}, "y": {"field": "s", "type": "quantitative"}}},
  {"data": {"name": "km"}, "transform": [{"filter": "datum.p === 'C' && datum.c === 1 && datum.g !== 'Noncarriers'"}],
   "mark": {"type": "point", "shape": "M-1,0L1,0M0,-1L0,1", "filled": false, "stroke": "#121419", "strokeWidth": 1.5, "size": 36, "opacity": 1},
   "encoding": {"x": {"field": "t", "type": "quantitative"}, "y": {"field": "s", "type": "quantitative"}}},
  {"data": {"values": [{}]}, "mark": {"type": "text", "align": "left", "baseline": "alphabetic", "fontSize": 22, "fontWeight": "bold"}, "encoding": {"x": {"datum": -7.74}, "y": {"datum": 1.03}, "text": {"value": "C"}}},
  {"data": {"values": [{}]}, "mark": {"type": "rule", "strokeWidth": 3, "color": "#3a7bc8"}, "encoding": {"x": {"datum": 1.07}, "x2": {"datum": 1.78}, "y": {"datum": 0.236}}},
  {"data": {"values": [{}]}, "mark": {"type": "rule", "strokeWidth": 3, "color": "#e3b53b"}, "encoding": {"x": {"datum": 1.07}, "x2": {"datum": 1.78}, "y": {"datum": 0.162}}},
  {"data": {"values": [{}]}, "mark": {"type": "rule", "strokeWidth": 3, "color": "#8c8c8c"}, "encoding": {"x": {"datum": 1.07}, "x2": {"datum": 1.78}, "y": {"datum": 0.088}}},
  {"data": {"values": [{}]}, "mark": {"type": "text", "align": "left", "baseline": "middle"}, "encoding": {"x": {"datum": 1.93}, "y": {"datum": 0.236}, "text": {"value": "Noncarriers"}}},
  {"data": {"values": [{}]}, "mark": {"type": "text", "align": "left", "baseline": "middle", "fontStyle": "italic"}, "encoding": {"x": {"datum": 1.93}, "y": {"datum": 0.162}, "text": {"value": "BRCA1"}}},
  {"data": {"values": [{}]}, "mark": {"type": "text", "align": "left", "baseline": "middle", "dx": 54}, "encoding": {"x": {"datum": 1.93}, "y": {"datum": 0.162}, "text": {"value": "mutation carriers"}}},
  {"data": {"values": [{}]}, "mark": {"type": "text", "align": "left", "baseline": "middle", "fontStyle": "italic"}, "encoding": {"x": {"datum": 1.93}, "y": {"datum": 0.088}, "text": {"value": "BRCA2"}}},
  {"data": {"values": [{}]}, "mark": {"type": "text", "align": "left", "baseline": "middle", "dx": 54}, "encoding": {"x": {"datum": 1.93}, "y": {"datum": 0.088}, "text": {"value": "mutation carriers"}}},
  {"data": {"values": [{}]}, "mark": {"type": "text", "align": "left", "baseline": "middle"}, "encoding": {"x": {"datum": -7.74}, "y": {"datum": -0.314}, "text": {"value": "No. at risk"}}},
  {"data": {"values": [{}]}, "mark": {"type": "text", "align": "left", "baseline": "middle"}, "encoding": {"x": {"datum": -7.74}, "y": {"datum": -0.378}, "text": {"value": "Noncarriers"}}},
  {"data": {"values": [{}]}, "mark": {"type": "text", "align": "left", "baseline": "middle", "fontStyle": "italic"}, "encoding": {"x": {"datum": -7.74}, "y": {"datum": -0.441}, "text": {"value": "BRCA1"}}},
  {"data": {"values": [{}]}, "mark": {"type": "text", "align": "left", "baseline": "middle", "dx": 54}, "encoding": {"x": {"datum": -7.74}, "y": {"datum": -0.441}, "text": {"value": "mutation"}}},
  {"data": {"values": [{}]}, "mark": {"type": "text", "align": "left", "baseline": "middle", "dx": 8}, "encoding": {"x": {"datum": -7.74}, "y": {"datum": -0.511}, "text": {"value": "carriers"}}},
  {"data": {"values": [{}]}, "mark": {"type": "text", "align": "left", "baseline": "middle", "fontStyle": "italic"}, "encoding": {"x": {"datum": -7.74}, "y": {"datum": -0.577}, "text": {"value": "BRCA2"}}},
  {"data": {"values": [{}]}, "mark": {"type": "text", "align": "left", "baseline": "middle", "dx": 54}, "encoding": {"x": {"datum": -7.74}, "y": {"datum": -0.577}, "text": {"value": "mutation"}}},
  {"data": {"values": [{}]}, "mark": {"type": "text", "align": "left", "baseline": "middle", "dx": 8}, "encoding": {"x": {"datum": -7.74}, "y": {"datum": -0.644}, "text": {"value": "carriers"}}},
  {"data": {"name": "risk"}, "transform": [{"filter": "datum.p === 'C' && datum.g === 'Noncarriers'"}], "mark": {"type": "text", "align": "right", "baseline": "middle", "dx": 10}, "encoding": {"x": {"field": "t", "type": "quantitative"}, "y": {"datum": -0.378}, "text": {"field": "n"}}},
  {"data": {"name": "risk"}, "transform": [{"filter": "datum.p === 'C' && datum.g === 'BRCA1'"}], "mark": {"type": "text", "align": "right", "baseline": "middle", "dx": 10}, "encoding": {"x": {"field": "t", "type": "quantitative"}, "y": {"datum": -0.441}, "text": {"field": "n"}}},
  {"data": {"name": "risk"}, "transform": [{"filter": "datum.p === 'C' && datum.g === 'BRCA2'"}], "mark": {"type": "text", "align": "right", "baseline": "middle", "dx": 10}, "encoding": {"x": {"field": "t", "type": "quantitative"}, "y": {"datum": -0.577}, "text": {"field": "n"}}}
 ]
}
]
}
